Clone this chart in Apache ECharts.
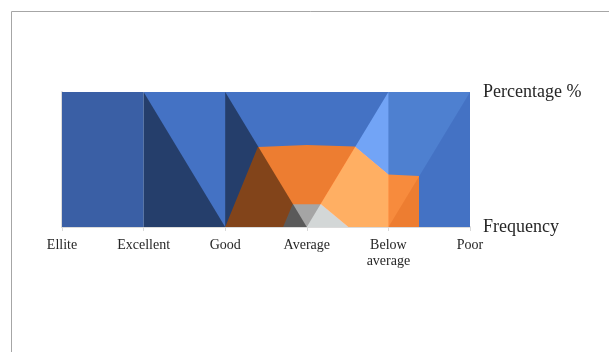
<!DOCTYPE html>
<html>
<head>
<meta charset="utf-8">
<script src="https://cdn.jsdelivr.net/npm/echarts@6/dist/echarts.min.js"></script>
<style>
html,body{margin:0;padding:0;background:#fff;}
#chart{width:609px;height:352px;}
</style>
</head>
<body>
<div id="chart"></div>
<script>
// Category labels on the x axis (positions 0..5)
const categories = ['Ellite', 'Excellent', 'Good', 'Average', 'Below\naverage', 'Poor'];
// Right axis tick labels
const rightLabels = ['Frequency', 'Percentage %'];

// Area shapes, as [category position, percentage] pairs
const elliteBlock   = [[0, 100], [1, 100]];
const baseBlue      = [[1, 100], [5, 100]];
const orangeArea    = [[2, 0], [2.40, 59.3], [3, 60.7], [3.59, 59.6], [4, 38.9], [4.375, 37.8], [4.375, 0]];
const greyArea      = [[2.71, 0], [2.827, 16.8], [3.174, 16.8], [3.51, 0]];
const shadeA        = [[1, 100], [2, 0]];
const shadeB        = [[2, 100], [3, 0]];
const lightA        = [[3, 0], [4, 100]];
const lightB        = [[4, 0], [5, 100]];

const chart = echarts.init(document.getElementById('chart'), null, {renderer: 'canvas'});
const font = 'Liberation Serif';

function area(name, data, color, extra) {
  return Object.assign({
    name: name,
    type: 'line',
    data: data,
    showSymbol: false,
    symbol: 'none',
    smooth: false,
    lineStyle: {width: 0, opacity: 0},
    areaStyle: {color: color, opacity: 1},
    silent: true
  }, extra || {});
}

chart.setOption({
  animation: false,
  backgroundColor: '#ffffff',
  graphic: [{
    type: 'rect',
    silent: true,
    shape: {x: 11.5, y: 11.5, width: 700, height: 500},
    style: {fill: 'none', stroke: '#a6a6a6', lineWidth: 1}
  }],
  grid: {left: 62, right: 139, top: 92, bottom: 125},
  xAxis: [{
    type: 'value', min: 0, max: 5, interval: 1,
    axisLine: {show: true, lineStyle: {color: '#d9d9d9', width: 1.5}},
    axisTick: {show: true, length: 4, lineStyle: {color: '#d9d9d9'}},
    splitLine: {show: false},
    axisLabel: {
      formatter: function (v) { return categories[Math.round(v)] || ''; },
      fontFamily: font, fontSize: 14, color: '#262626', margin: 10, lineHeight: 16
    }
  }, {
    type: 'value', min: 0, max: 5, position: 'top',
    axisLine: {show: true, lineStyle: {color: '#d9d9d9', width: 1.5}},
    axisTick: {show: false}, axisLabel: {show: false}, splitLine: {show: false}
  }],
  yAxis: [{
    type: 'value', min: 0, max: 100, position: 'left',
    axisLine: {show: true, lineStyle: {color: '#d9d9d9', width: 1.5}},
    axisTick: {show: false}, axisLabel: {show: false}, splitLine: {show: false}
  }, {
    type: 'value', min: 0, max: 100, interval: 100, position: 'right',
    axisLine: {show: true, lineStyle: {color: '#d9d9d9', width: 1.5}},
    axisTick: {show: true, length: 5, lineStyle: {color: '#d9d9d9'}},
    splitLine: {show: false},
    axisLabel: {
      formatter: function (v) { return v >= 100 ? rightLabels[1] : rightLabels[0]; },
      fontFamily: font, fontSize: 18, color: '#262626', margin: 13
    }
  }],
  series: [
    area('Ellite block', elliteBlock, '#3a5fa5'),
    area('Blue', baseBlue, '#4472c4'),
    area('Orange', orangeArea, '#ed7d31'),
    area('Grey', greyArea, '#a5a5a5'),
    area('Shade A', shadeA, 'rgba(0,0,0,0.45)'),
    area('Shade B', shadeB, 'rgba(0,0,0,0.45)'),
    area('Light A', lightA, 'rgb(46,50,50)', {blendMode: 'lighter'}),
    area('Light B', lightB, 'rgb(10,14,12)', {blendMode: 'lighter', areaStyle: {color: 'rgb(10,14,12)', opacity: 1, origin: 'end'}})
  ]
});
</script>
</body>
</html>
